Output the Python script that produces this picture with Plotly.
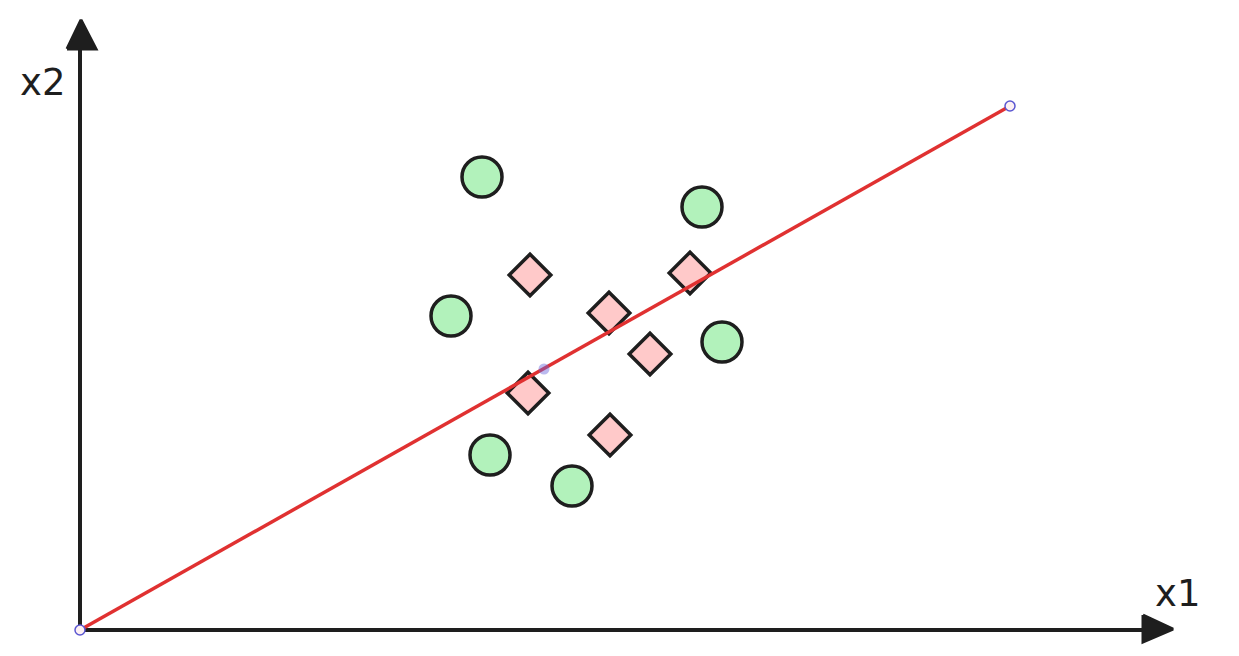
import plotly.graph_objects as go

# Data in pixel-offset units from the origin (x to the right, y upward)
circle_x = [402, 622, 371, 642, 410, 492]
circle_y = [453, 423, 314, 288, 175, 144]
diamond_x = [450, 610, 529, 570, 448, 530]
diamond_y = [355, 357, 317, 276, 237, 195]
line_x = [0, 930]
line_y = [0, 524]
mid_x = [464]
mid_y = [261]
x_axis_end = 1063
y_axis_end = 581

INK = "#1e1e1e"
fig = go.Figure()

# axes lines
fig.add_trace(go.Scatter(x=[0, 0], y=[0, y_axis_end], mode="lines",
                         line=dict(color=INK, width=4), hoverinfo="skip"))
fig.add_trace(go.Scatter(x=[0, x_axis_end], y=[0, 0], mode="lines",
                         line=dict(color=INK, width=4), hoverinfo="skip"))
# arrow heads
fig.add_trace(go.Scatter(x=[-13, 1, 16, -13], y=[581, 610, 581, 581], mode="lines",
                         fill="toself", fillcolor=INK, line=dict(color=INK, width=3),
                         hoverinfo="skip"))
fig.add_trace(go.Scatter(x=[1063, 1093, 1063, 1063], y=[15, 1, -12, 15], mode="lines",
                         fill="toself", fillcolor=INK, line=dict(color=INK, width=3),
                         hoverinfo="skip"))

# green circles
fig.add_trace(go.Scatter(x=circle_x, y=circle_y, mode="markers",
                         marker=dict(symbol="circle", size=40, color="#b2f2bb",
                                     line=dict(color=INK, width=3.5))))
# pink diamonds
fig.add_trace(go.Scatter(x=diamond_x, y=diamond_y, mode="markers",
                         marker=dict(symbol="diamond", size=32, color="#ffc9c9",
                                     line=dict(color=INK, width=3.5))))
# red line
fig.add_trace(go.Scatter(x=line_x, y=line_y, mode="lines",
                         line=dict(color="#e03131", width=3.5), hoverinfo="skip"))
# endpoint handles
fig.add_trace(go.Scatter(x=line_x, y=line_y, mode="markers",
                         marker=dict(symbol="circle", size=10, color="#fdf0f3",
                                     line=dict(color="#5b57d1", width=1.5))))
fig.add_trace(go.Scatter(x=mid_x, y=mid_y, mode="markers",
                         marker=dict(symbol="circle", size=11, color="rgba(105,101,219,0.45)",
                                     line=dict(width=0))))

fig.add_annotation(x=-38, y=548, text="x2", showarrow=False,
                   font=dict(family="DejaVu Sans", size=37, color=INK))
fig.add_annotation(x=1097, y=37, text="x1", showarrow=False,
                   font=dict(family="DejaVu Sans", size=37, color=INK))

fig.update_layout(width=1223, height=640, margin=dict(l=0, r=0, t=0, b=0),
                  paper_bgcolor="white", plot_bgcolor="white", showlegend=False,
                  xaxis=dict(range=[-72, 1151], visible=False, fixedrange=True),
                  yaxis=dict(range=[-18, 622], visible=False, fixedrange=True))
fig.write_html("out.html")
